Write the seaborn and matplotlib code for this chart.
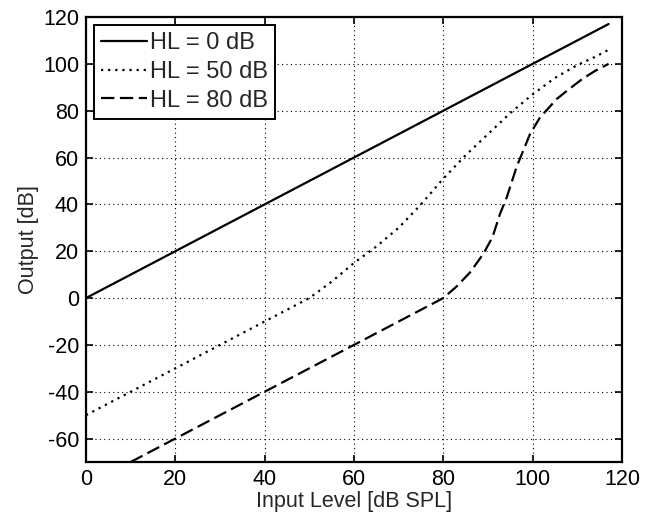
import matplotlib
matplotlib.use("Agg")
import matplotlib.pyplot as plt
import seaborn as sns
import pandas as pd

# Data
x_hl0 = [0, 117]
y_hl0 = [0, 117]

x_hl50 = [0, 20, 40, 50, 55, 60, 65, 70, 75, 80, 85, 90, 95, 100, 105, 110, 114, 117]
y_hl50 = [-50, -30, -10, 0, 7, 15, 22, 30, 40, 51, 61, 70, 79, 87, 94, 99.5, 103, 106]

x_hl80 = [10, 20, 40, 60, 70, 76, 80, 83, 86, 89, 91, 92.7, 94.2, 96.4, 99.4, 101.6, 105.4, 108, 111.3, 114, 117]
y_hl80 = [-70, -60, -40, -20, -10, -4, 0, 5, 11, 19, 26, 36, 43, 56, 70, 77, 85, 89, 93.8, 97, 100]

labels = ["HL = 0 dB", "HL = 50 dB", "HL = 80 dB"]
x_ticks = [0, 20, 40, 60, 80, 100, 120]
y_ticks = [-60, -40, -20, 0, 20, 40, 60, 80, 100, 120]

sns.set_style("white")
plt.rcParams["font.family"] = ["Liberation Sans", "DejaVu Sans"]
plt.rcParams["axes.unicode_minus"] = False

fig = plt.figure(figsize=(6.52, 5.19), dpi=100)
ax = fig.add_axes([86/652, (519-462)/519, (622-86)/652, (462-17)/519])

frames = []
for lab, xs, ys in zip(labels, [x_hl0, x_hl50, x_hl80], [y_hl0, y_hl50, y_hl80]):
    frames.append(pd.DataFrame({"x": xs, "y": ys, "series": lab}))
df = pd.concat(frames, ignore_index=True)

styles = {labels[0]: "-", labels[1]: (0, (1, 2.2)), labels[2]: (0, (6, 2.5))}
for lab in labels:
    sub = df[df["series"] == lab]
    sns.lineplot(data=sub, x="x", y="y", ax=ax, color="black", lw=1.6,
                 linestyle=styles[lab], label=lab, sort=False, estimator=None)

ax.set_xlim(0, 120)
ax.set_ylim(-70, 120)
ax.set_xticks(x_ticks)
ax.set_yticks(y_ticks)
ax.grid(True, color="black", linestyle=(0, (1, 3)), lw=0.8)
ax.tick_params(direction="in", length=5, width=1.2, colors="black", labelsize=15.5,
               top=True, right=True, left=True, bottom=True, pad=5)
for s in ax.spines.values():
    s.set_color("black")
    s.set_linewidth(1.6)
ax.set_xlabel("Input Level [dB SPL]", fontsize=15.5, labelpad=1)
ax.set_ylabel("Output [dB]", fontsize=15.5, labelpad=3)

leg = ax.legend(loc="upper left", fontsize=17, frameon=True, fancybox=False,
                edgecolor="black", framealpha=1, handlelength=1.95, handletextpad=0.1,
                borderaxespad=0.35, borderpad=0.3, labelspacing=0.28)
leg.get_frame().set_linewidth(1.4)

fig.savefig("out.png", dpi=100)
